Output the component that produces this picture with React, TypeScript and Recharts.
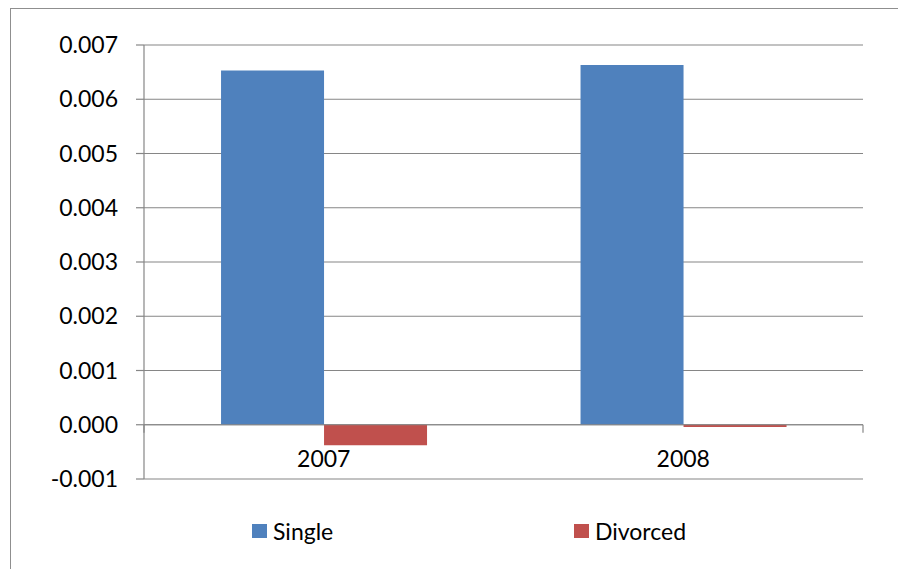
import React from 'react';
import {
  BarChart,
  Bar,
  XAxis,
  YAxis,
  CartesianGrid,
  ReferenceLine,
  Legend,
} from 'recharts';

// Categories and series values
const years = ['2007', '2008'];
const seriesNames = ['Single', 'Divorced'];
const singleValues = [0.00653, 0.00663];
const divorcedValues = [-0.00038, -0.00004];
const yTicks = [-0.001, 0, 0.001, 0.002, 0.003, 0.004, 0.005, 0.006, 0.007];
// Boundaries between categories on a 0..n scale, where the axis tick marks sit
const categoryBoundaries = [0, 1, 2];

const data = years.map((year, i) => ({
  year,
  Single: singleValues[i],
  Divorced: divorcedValues[i],
}));

const FONT = 'Lato, "Open Sans", sans-serif';
const AXIS_GRAY = '#868686';
const TICK_MARK_DEPTH = 0.0001475; // 8px below zero, in value units

const renderLegend = (props: any) => {
  const payload = [...(props.payload || [])].sort(
    (a: any, b: any) => seriesNames.indexOf(a.value) - seriesNames.indexOf(b.value)
  );
  return (
    <div style={{ display: 'flex', fontFamily: FONT, fontSize: 23, color: '#000' }}>
      {payload.map((entry: any, i: number) => (
        <div
          key={entry.value}
          style={{
            display: 'flex',
            alignItems: 'center',
            height: 40,
            width: i === 0 ? 322 : 'auto',
          }}
        >
          <span
            style={{
              display: 'inline-block',
              width: 14.5,
              height: 14.5,
              background: entry.color,
              marginRight: 6.5,
            }}
          />
          <span>{entry.value}</span>
        </div>
      ))}
    </div>
  );
};

export default function App() {
  return (
    <div style={{ position: 'relative', width: 898, height: 561 }}>
      {/* chart-area frame: only top and left edges fall inside the page */}
      <div
        style={{
          position: 'absolute',
          left: 2,
          top: 0,
          width: 896,
          height: 561,
          borderTop: '1px solid #8f8f8f',
          borderLeft: '1px solid #8f8f8f',
          boxSizing: 'border-box',
        }}
      />
      <div style={{ position: 'absolute', left: 0, top: 0 }}>
        <BarChart
          width={898}
          height={561}
          data={data}
          margin={{ top: 37, right: 43, left: 0, bottom: 89 }}
          barCategoryGap="21.43%"
          barGap={0}
        >
          <CartesianGrid
            horizontal
            vertical={false}
            stroke={AXIS_GRAY}
            strokeWidth={1.2}
            xAxisId="cat"
          />
          <XAxis
            xAxisId="cat"
            dataKey="year"
            height={1}
            axisLine={false}
            tickLine={false}
            tickSize={0}
            tickMargin={-28}
            tick={{ fill: '#000', fontSize: 23, fontFamily: FONT }}
          />
          <XAxis xAxisId="num" type="number" domain={[0, 2]} hide />
          <YAxis
            width={136}
            domain={[-0.001, 0.007]}
            ticks={yTicks}
            interval={0}
            tickFormatter={(v: number) => v.toFixed(3)}
            axisLine={{ stroke: AXIS_GRAY, strokeWidth: 1.2 }}
            tickLine={{ stroke: AXIS_GRAY, strokeWidth: 1.2 }}
            tickSize={8}
            tickMargin={18}
            tick={{ fill: '#000', fontSize: 23, fontFamily: FONT }}
          />
          <Bar
            xAxisId="cat"
            dataKey="Single"
            fill="#4F81BD"
            isAnimationActive={false}
          />
          <Bar
            xAxisId="cat"
            dataKey="Divorced"
            fill="#C0504D"
            isAnimationActive={false}
          />
          {/* category axis drawn across the zero value */}
          <ReferenceLine xAxisId="cat" y={0} stroke={AXIS_GRAY} strokeWidth={1.2} />
          {categoryBoundaries.map((b) => (
            <ReferenceLine
              key={b}
              xAxisId="num"
              stroke={AXIS_GRAY}
              strokeWidth={1.2}
              segment={[
                { x: b, y: 0 },
                { x: b, y: -TICK_MARK_DEPTH },
              ]}
            />
          ))}
          <Legend
            layout="horizontal"
            verticalAlign="middle"
            align="center"
            content={renderLegend}
            wrapperStyle={{ left: 244, top: 503, width: 500, height: 40 }}
          />
        </BarChart>
      </div>
    </div>
  );
}
